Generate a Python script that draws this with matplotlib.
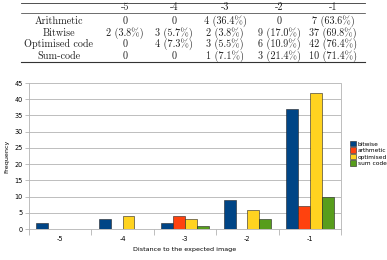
import matplotlib
matplotlib.use('Agg')
import matplotlib.pyplot as plt
import numpy as np

# 数据
distances = ['-5', '-4', '-3', '-2', '-1']
series_names = ['bitwise', 'arthmetic', 'optimised', 'sum code']
bitwise = [2, 3, 2, 9, 37]
arithmetic = [0, 0, 4, 0, 7]
optimised = [0, 4, 3, 6, 42]
sum_code = [0, 0, 1, 3, 10]

row_labels = ['Arithmetic', 'Bitwise', 'Optimised code', 'Sum-code']
table_cells = [
    ['0', '0', '4 (36.4%)', '0', '7 (63.6%)'],
    ['2 (3.8%)', '3 (5.7%)', '2 (3.8%)', '9 (17.0%)', '37 (69.8%)'],
    ['0', '4 (7.3%)', '3 (5.5%)', '6 (10.9%)', '42 (76.4%)'],
    ['0', '0', '1 (7.1%)', '3 (21.4%)', '10 (71.4%)'],
]

colors = ['#004586', '#ff420e', '#ffd320', '#579d1c']

W, H = 387, 260
fig = plt.figure(figsize=(W / 100, H / 100), dpi=100)

# 表格（像素坐标）
tab = fig.add_axes([0, 0, 1, 1])
tab.set_xlim(0, W)
tab.set_ylim(H, 0)
tab.axis('off')
serif = ['cmr10', 'DejaVu Serif']
fs_tab = 7.3
col_x = [125, 174, 225, 279, 333]
for x, d in zip(col_x, distances):
    tab.text(x, 7, d, ha='center', va='center', fontsize=fs_tab, family=serif,
             color='#222222')
row_y = [21, 33, 44, 56]
for y, lab, cells in zip(row_y, row_labels, table_cells):
    tab.text(59, y, lab, ha='center', va='center', fontsize=fs_tab, family=serif,
             color='#222222')
    for x, c in zip(col_x, cells):
        tab.text(x, y, c, ha='center', va='center', fontsize=fs_tab, family=serif,
                 color='#222222')
for y, lw in [(2.5, 0.6), (13, 0.5), (62, 0.8)]:
    tab.plot([21, 365], [y, y], color='#333333', lw=lw)

# 柱状图
ax = fig.add_axes([29 / W, 1 - 229 / H, 312 / W, 146 / H])
x = np.arange(len(distances))
width = 0.19
all_series = [bitwise, arithmetic, optimised, sum_code]
for i, (vals, name, c) in enumerate(zip(all_series, series_names, colors)):
    ax.bar(x + (i - 1.5) * width, vals, width, color=c, edgecolor='#222222',
           linewidth=0.4, label=name, zorder=3)

ax.set_xlim(-0.5, len(distances) - 0.5)
ax.set_ylim(0, 45)
ax.set_yticks(range(0, 46, 5))
ax.set_xticks(x)
ax.set_xticklabels(distances)
ax.set_xticks(np.arange(-0.5, len(distances), 1), minor=True)
ax.tick_params(axis='x', which='major', length=0, labelsize=4.7, pad=5)
ax.tick_params(axis='x', which='minor', length=4, color='#b3b3b3', width=0.6)
ax.tick_params(axis='y', length=3, color='#b3b3b3', width=0.6, labelsize=4.7, pad=1.5)
ax.grid(axis='y', color='#b3b3b3', linewidth=0.6, zorder=0)
ax.spines['top'].set_visible(False)
for s in ['left', 'bottom', 'right']:
    ax.spines[s].set_color('#b3b3b3')
    ax.spines[s].set_linewidth(0.6)
ax.set_xlabel('Distance to the expected image', fontsize=4.6, labelpad=4)
ax.set_ylabel('Frequency', fontsize=4.6, labelpad=4)

fig.legend(loc='upper left', bbox_to_anchor=(350 / W, 1 - 141 / H), frameon=False,
           fontsize=4.2, handlelength=1.0, handleheight=1.0, handletextpad=0.3,
           labelspacing=0.15, borderpad=0, borderaxespad=0)

fig.savefig('out.png', dpi=100)
